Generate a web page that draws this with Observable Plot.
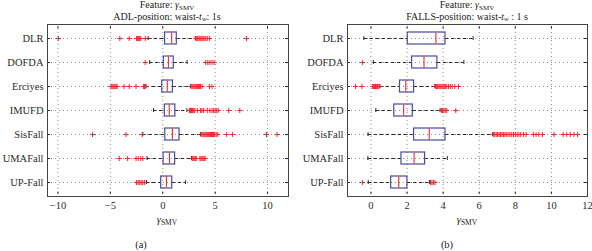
<!DOCTYPE html>
<html>
<head>
<meta charset="utf-8">
<script src="https://cdn.jsdelivr.net/npm/d3@7"></script>
<script src="https://cdn.jsdelivr.net/npm/@observablehq/plot@0.6"></script>
<style>
  html, body { margin: 0; padding: 0; background: #fff; }
  #root { position: relative; width: 592px; height: 251px; font-family: "Liberation Serif", "Times New Roman", serif; color: #222; overflow: hidden; }
  #root svg text { font-family: "Liberation Serif", "Times New Roman", serif !important; }
  .panel { position: absolute; top: 0; width: 296px; height: 215px; }
  .txt { position: absolute; font-size: 10.5px; line-height: 1; white-space: nowrap; transform: translateX(-50%); }
  .ttl { font-size: 10px; }
  .sub { font-size: 7.5px; position: relative; top: 2px; }
  .ttl .sub { font-size: 7px; top: 1.5px; }
</style>
</head>
<body>
<div id="root">
  <div class="panel" id="pa" style="left:0px"></div>
  <div class="panel" id="pb" style="left:296px"></div>
  <div class="txt ttl" style="left:167px; top:0px">Feature: <i>γ</i><span class="sub">SMV</span></div>
  <div class="txt ttl" style="left:167px; top:11.5px">ADL-position: waist-<i>t</i><span class="sub"><i>w</i></span>: 1s</div>
  <div class="txt ttl" style="left:467px; top:0px">Feature: <i>γ</i><span class="sub">SMV</span></div>
  <div class="txt ttl" style="left:467px; top:11.5px">FALLS-position: waist-<i>t</i><span class="sub"><i>w</i></span> : 1 s</div>
  <div class="txt" style="left:167px; top:215px"><i>γ</i><span class="sub">SMV</span></div>
  <div class="txt" style="left:467px; top:215px"><i>γ</i><span class="sub">SMV</span></div>
  <div class="txt" style="left:141px; top:240px">(a)</div>
  <div class="txt" style="left:447px; top:240px">(b)</div>
</div>
<script>
// ---------- data ----------
const categories = ["DLR", "DOFDA", "Erciyes", "IMUFD", "SisFall", "UMAFall", "UP-Fall"];

// (a) ADL
const adlTicks = [-10, -5, 0, 5, 10];
const adlDomain = [-11, 12];
const adlLow    = [-1.4, -1.25, -1.6, -0.88, -1.9, -1.5, -1.55];
const adlQ1     = [0.22, 0.1, -0.05, 0.2, 0.24, 0.08, -0.15];
const adlMedian = [0.85, 0.54, 0.43, 0.62, 0.92, 0.64, 0.35];
const adlQ3     = [1.34, 1.05, 0.97, 1.2, 1.6, 1.18, 0.9];
const adlHigh   = [3.1, 2.32, 2.64, 2.3, 3.6, 2.75, 2.18];
const adlOutliers = [
  [-9.95, -4.1, -3.2, -2.5, -2.4, -2.3, -2.2, -2.1, -1.67, 3.15, 3.25, 3.35, 3.45, 3.55, 3.65, 3.75, 3.85, 3.95, 4.1, 4.25, 4.45, 8.0],
  [-1.68, 4.1, 4.3, 4.5, 4.7, 4.9],
  [-4.95, -4.85, -4.75, -4.65, -4.55, -4.45, -4.35, -3.7, -3.2, -2.55, -1.85, -1.75, -1.65, 2.7, 2.8, 2.9, 3.0, 3.1, 3.2, 3.3, 3.4, 3.5, 3.6, 3.75, 4.45, 4.7],
  [2.55, 2.65, 2.75, 2.85, 2.95, 3.05, 3.3, 3.6, 3.75, 3.9, 4.25, 4.5, 4.7, 4.85, 5.0, 5.15, 5.3, 6.3, 7.35],
  [-6.7, -3.5, -1.95, 3.65, 3.75, 3.85, 3.95, 4.05, 4.15, 4.25, 4.35, 4.45, 4.55, 4.65, 4.75, 4.85, 4.95, 5.1, 5.25, 6.1, 6.65, 9.9, 10.9],
  [-4.15, -3.35, -2.55, -2.35, -2.1, -1.9, 2.8, 2.9, 3.0, 3.1, 3.2, 3.55, 3.65, 3.75, 3.85, 3.95, 4.05],
  [-2.5, -2.35, -2.2, -2.05, -1.9, -1.75]
];

// (b) FALLS
const fallsTicks = [0, 2, 4, 6, 8, 10, 12];
const fallsDomain = [-1.3, 12];
const fallsLow    = [-0.39, 0.13, 0.5, 0.27, -0.16, -0.17, -0.15];
const fallsQ1     = [2.04, 2.28, 1.61, 1.29, 2.39, 1.69, 1.12];
const fallsMedian = [3.6, 2.94, 1.93, 1.81, 3.23, 2.39, 1.54];
const fallsQ3     = [4.13, 3.68, 2.39, 2.32, 4.13, 3.0, 2.02];
const fallsHigh   = [5.66, 5.15, 3.54, 3.83, 6.75, 4.23, 3.24];
const fallsOutliers = [
  [],
  [-0.46],
  [-0.85, -0.5, 0.1, 0.15, 0.2, 0.25, 0.3, 0.35, 0.4, 0.45, 3.58, 3.64, 3.7, 3.76, 3.82, 3.88, 3.94, 4.0, 4.06, 4.12, 4.2, 4.3, 4.4, 4.5, 4.65, 4.85],
  [3.9, 3.97, 4.04, 4.12, 4.2, 4.7],
  [6.78, 6.86, 6.94, 7.02, 7.1, 7.18, 7.26, 7.34, 7.42, 7.5, 7.6, 7.7, 7.8, 7.9, 8.0, 8.1, 8.2, 8.3, 8.45, 8.6, 9.0, 9.15, 9.3, 9.5, 10.15, 10.65, 10.85, 11.05, 11.25, 11.45],
  [],
  [-0.46, 3.3, 3.38, 3.46, 3.55]
];

// ---------- drawing ----------
const BOX = "#4b4b9b", RED = "#ea2a2a", INK = "#2a2a2a", GRID = "#8a8a8a";
const FONT = "'Liberation Serif', 'Times New Roman', serif";

function panel({ticks, domain, low, q1, median, q3, high, outliers, width, height, marginLeft, marginRight, marginTop, marginBottom}) {
  const rows = categories.map((c, i) => ({cat: c, lo: low[i], q1: q1[i], med: median[i], q3: q3[i], hi: high[i]}));
  const outs = categories.flatMap((c, i) => outliers[i].map(v => ({cat: c, v})));
  const plotW = width - marginLeft - marginRight;
  const plotH = height - marginTop - marginBottom;
  const bw = plotH / categories.length;
  return Plot.plot({
    width, height, marginLeft, marginRight, marginTop, marginBottom,
    style: {fontFamily: FONT, fontSize: "10.5px", color: INK, background: "transparent", overflow: "visible"},
    x: {domain, ticks},
    y: {domain: categories, padding: 0},
    marks: [
      Plot.gridX(ticks, {stroke: GRID, strokeOpacity: 1, strokeDasharray: "1,3"}),
      Plot.gridY(categories, {stroke: GRID, strokeOpacity: 1, strokeDasharray: "1,3"}),
      Plot.axisX(ticks, {tickSize: 0, tickPadding: 5, label: null, fontSize: 10.5, fontFamily: FONT}),
      Plot.axisY({tickSize: 0, tickPadding: 4, label: null, fontSize: 10.5, fontFamily: FONT}),
      // inner tick marks (MATLAB style)
      Plot.tickX(ticks, {x: d => d, y: () => categories[0], insetBottom: bw - 3, stroke: INK}),
      Plot.tickX(ticks, {x: d => d, y: () => categories[categories.length - 1], insetTop: bw - 3, stroke: INK}),
      Plot.ruleY(categories, {y: d => d, insetRight: plotW - 3, stroke: INK}),
      Plot.ruleY(categories, {y: d => d, insetLeft: plotW - 3, stroke: INK}),
      // whiskers
      Plot.ruleY(rows, {y: "cat", x1: "lo", x2: "q1", stroke: INK, strokeDasharray: "3.5,2.5"}),
      Plot.ruleY(rows, {y: "cat", x1: "q3", x2: "hi", stroke: INK, strokeDasharray: "3.5,2.5"}),
      Plot.tickX(rows, {x: "lo", y: "cat", insetTop: 10, insetBottom: 10, stroke: INK}),
      Plot.tickX(rows, {x: "hi", y: "cat", insetTop: 10, insetBottom: 10, stroke: INK}),
      // boxes and medians
      Plot.barX(rows, {x1: "q1", x2: "q3", y: "cat", insetTop: 6, insetBottom: 6, fill: "none", stroke: BOX, strokeWidth: 1.2}),
      Plot.tickX(rows, {x: "med", y: "cat", insetTop: 6.5, insetBottom: 6.5, stroke: RED, strokeWidth: 1.1}),
      // outliers
      Plot.dot(outs, {x: "v", y: "cat", symbol: "plus", r: 1.8, stroke: RED, strokeWidth: 1}),
      Plot.frame({stroke: "#444", strokeWidth: 1})
    ]
  });
}

document.getElementById("pa").append(panel({
  ticks: adlTicks, domain: adlDomain, low: adlLow, q1: adlQ1, median: adlMedian, q3: adlQ3, high: adlHigh, outliers: adlOutliers,
  width: 296, height: 215, marginLeft: 47, marginRight: 8, marginTop: 24, marginBottom: 19
}));
document.getElementById("pb").append(panel({
  ticks: fallsTicks, domain: fallsDomain, low: fallsLow, q1: fallsQ1, median: fallsMedian, q3: fallsQ3, high: fallsHigh, outliers: fallsOutliers,
  width: 296, height: 215, marginLeft: 51, marginRight: 5, marginTop: 24, marginBottom: 19
}));
</script>
</body>
</html>
